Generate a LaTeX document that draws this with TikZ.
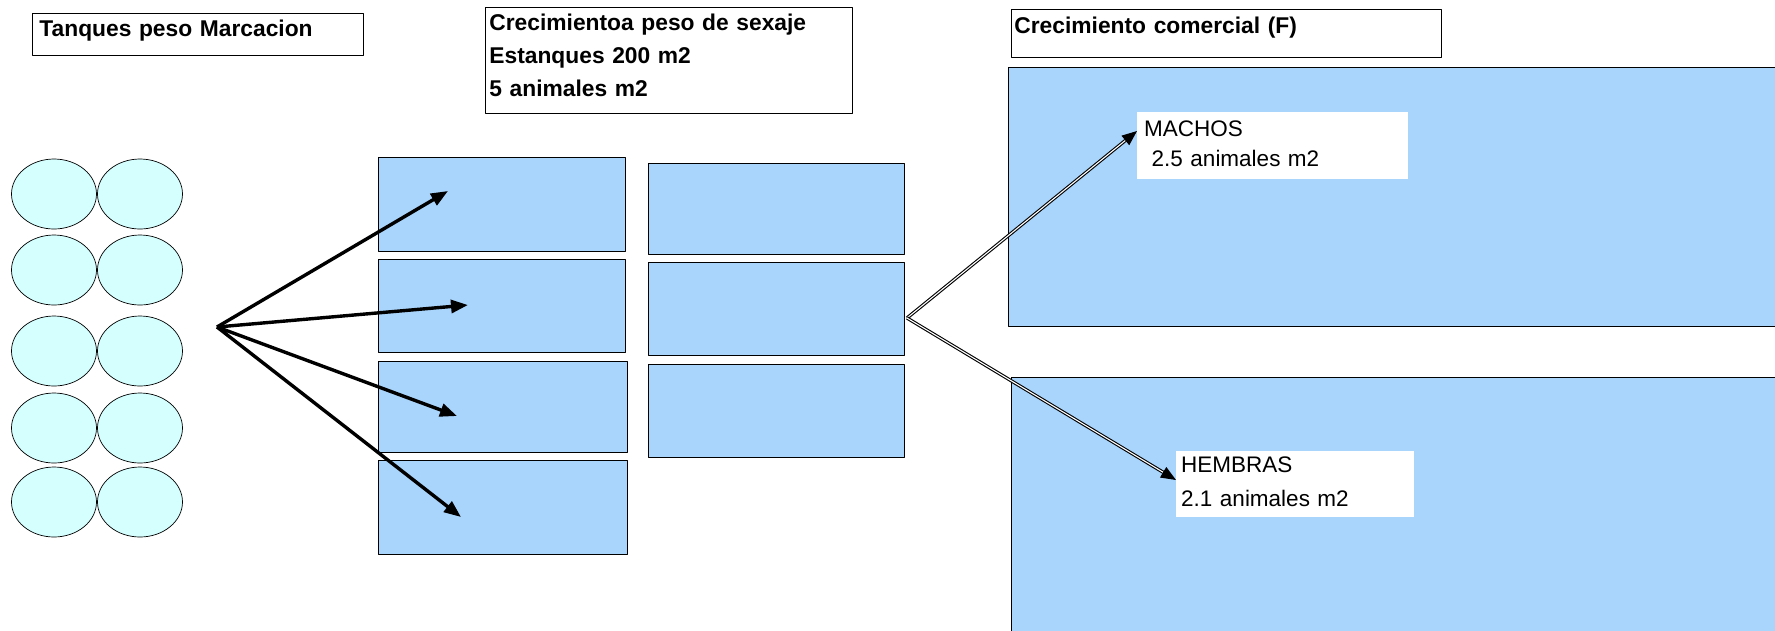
\documentclass[tikz,border=0pt]{standalone}
\usepackage{fontspec}
\setmainfont{Liberation Sans}
\usetikzlibrary{shapes.geometric,arrows.meta}
\definecolor{azul}{RGB}{169,213,252}
\definecolor{celeste}{RGB}{213,255,255}
\tikzset{
  titulo/.style={draw, line width=0.8pt, fill=white, anchor=north west, align=left,
    inner ysep=0pt, font=\bfseries\fontsize{22.8}{33}\selectfont},
  etiq/.style={fill=white, anchor=north west, align=left, inner ysep=0pt,
    font=\fontsize{22.5}{30}\selectfont},
  estanque/.style={draw, line width=0.8pt, fill=azul, anchor=north west, inner sep=0pt},
  tanque/.style={ellipse, draw, line width=0.7pt, fill=celeste, inner sep=0pt,
    minimum width=85pt, minimum height=70pt},
  flecha/.style={line width=3.4pt, -{Triangle[length=17pt,width=13pt]}},
  flechad/.style={line width=1.1pt, double=white, double distance=1.1pt,
    -{Triangle[length=15pt,width=12pt]}}
}
\begin{document}
\begin{tikzpicture}[x=1pt, y=-1pt, line join=round]
  \useasboundingbox (0,0) rectangle (1775,630);
  \clip (0,0) rectangle (1775,630);
  %%%%%%%%%%%%%%%%%%%%%%%%%%%%%%%%%
  \coordinate (fuente) at (217,327);
  \coordinate (f1) at (448,191);
  \coordinate (f2) at (468,305);
  \coordinate (f3) at (457,416);
  \coordinate (f4) at (461,517);
  \coordinate (division) at (907,318);
  \coordinate (fm) at (1137,131);
  \coordinate (fh) at (1176,480);
  %%%%%%%%%%%%%%%%%%%%%%%%%%%%%%%%%
  % titulos
  \node[titulo, text width=317pt, inner xsep=7pt, text height=23pt, text depth=19pt]
    (marcacion) at (32,13) {Tanques peso Marcacion};
  \node[titulo, text width=359pt, inner xsep=4pt, text height=23pt, text depth=83pt]
    (sexaje) at (485,7) {Crecimientoa peso de sexaje\\Estanques 200 m2\\5 animales m2};
  \node[titulo, text width=424pt, inner xsep=3pt, text height=24pt, text depth=24pt]
    (comercial) at (1011,9) {Crecimiento comercial (F)};
  %%%%%%%%%%%%%%%%%%%%%%%%%%%%%%%%%
  % tanques de marcacion
  \foreach \fila/\yy in {1/194,2/270,3/351,4/428,5/502} {
    \node[tanque] (tq\fila a) at (54,\yy) {};
    \node[tanque] (tq\fila b) at (140,\yy) {};
  }
  %%%%%%%%%%%%%%%%%%%%%%%%%%%%%%%%%
  % estanques de sexaje
  \node[estanque, minimum width=247pt, minimum height=94pt] (e1) at (378,157) {};
  \node[estanque, minimum width=247pt, minimum height=93pt] (e2) at (378,259) {};
  \node[estanque, minimum width=249pt, minimum height=91pt] (e3) at (378,361) {};
  \node[estanque, minimum width=249pt, minimum height=94pt] (e4) at (378,460) {};
  \node[estanque, minimum width=256pt, minimum height=91pt] (e5) at (648,163) {};
  \node[estanque, minimum width=256pt, minimum height=93pt] (e6) at (648,262) {};
  \node[estanque, minimum width=256pt, minimum height=93pt] (e7) at (648,364) {};
  %%%%%%%%%%%%%%%%%%%%%%%%%%%%%%%%%
  % estanques comerciales
  \node[estanque, minimum width=790pt, minimum height=259pt] (machos) at (1008,67) {};
  \node[estanque, minimum width=790pt, minimum height=280pt] (hembras) at (1011,377) {};
  \node[etiq, text width=257pt, inner xsep=7pt, text height=24pt, text depth=43pt]
    (lmachos) at (1137,112) {MACHOS\\\ 2.5 animales m2};
  \node[etiq, text width=228pt, inner xsep=5pt, text height=21pt, text depth=45pt,
    font=\fontsize{22.5}{34}\selectfont]
    (lhembras) at (1176,451) {HEMBRAS\\2.1 animales m2};
  %%%%%%%%%%%%%%%%%%%%%%%%%%%%%%%%%
  \foreach \p in {f1,f2,f3,f4}
    \draw[flecha] (fuente) -- (\p);
  \draw[flechad] (division) -- (fm);
  \draw[flechad] (division) -- (fh);
  %%%%%%%%%%%%%%%%%%%%%%%%%%%%%%%%%
\end{tikzpicture}
\end{document}
